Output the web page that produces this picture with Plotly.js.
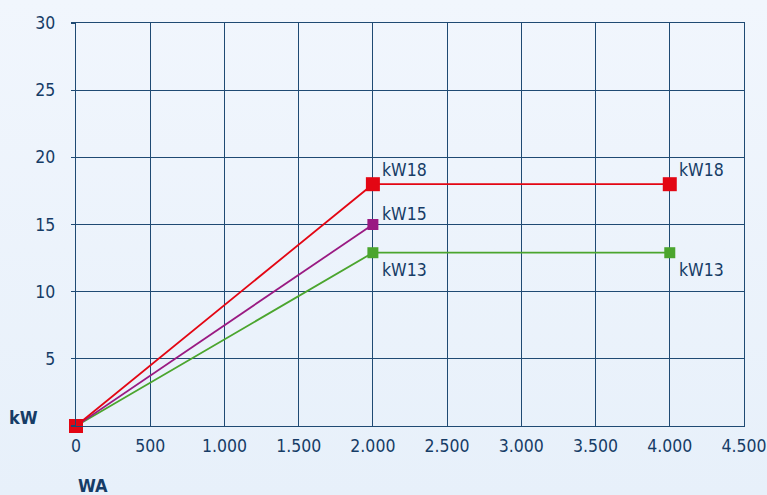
<!DOCTYPE html>
<html>
<head>
<meta charset="utf-8">
<script src="https://cdn.plot.ly/plotly-3.0.1.min.js"></script>
<style>
  html, body { margin: 0; padding: 0; }
  body { width: 767px; height: 495px; background: linear-gradient(to bottom, #f1f6fd 0%, #e7f0fa 100%); }
  #chart { width: 767px; height: 495px; }
</style>
</head>
<body>
<div id="chart"></div>
<script>
const xWA = [0, 2000, 4000];
const kW18 = [0, 18, 18];
const xKW15 = [0, 2000];
const kW15 = [0, 15];
const kW13 = [0, 12.9, 12.9];
const labels18 = ['', 'kW18', 'kW18'];
const labels15 = ['', 'kW15'];
const labels13 = ['', 'kW13', 'kW13'];
const xTicks = [0, 500, 1000, 1500, 2000, 2500, 3000, 3500, 4000, 4500];
const yTicks = [0, 5, 10, 15, 20, 25, 30];

const FONT = '"Liberation Sans Narrow", "DejaVu Sans Condensed", sans-serif';
const NAVY = '#163c66';
const GRID = '#1f4a73';
const RED = '#e30613';
const PURPLE = '#9a1a82';
const GREEN = '#4ba52e';
const FS = 17.5;

const traces = [
  {x: xWA, y: kW13, mode: 'lines+markers', cliponaxis: false, line: {color: GREEN, width: 1.8},
   marker: {symbol: 'square', size: 11, color: GREEN}, hoverinfo: 'skip'},
  {x: xKW15, y: kW15, mode: 'lines+markers', cliponaxis: false, line: {color: PURPLE, width: 1.8},
   marker: {symbol: 'square', size: 11, color: PURPLE}, hoverinfo: 'skip'},
  {x: xWA, y: kW18, mode: 'lines+markers', cliponaxis: false, line: {color: RED, width: 1.8},
   marker: {symbol: 'square', size: 14, color: RED}, hoverinfo: 'skip'}
];

const annotations = [];
function addLabels(xs, ys, texts, yshift) {
  texts.forEach((t, i) => {
    if (!t) return;
    annotations.push({x: xs[i], y: ys[i], xref: 'x', yref: 'y', text: t, showarrow: false,
      xanchor: 'left', yanchor: 'middle', xshift: 7, yshift: yshift,
      font: {family: FONT, size: FS, color: NAVY}});
  });
}
addLabels(xWA, kW18, labels18, 14);
addLabels(xKW15, kW15, labels15, 11);
addLabels(xWA, kW13, labels13, -17);

annotations.push({xref: 'paper', yref: 'paper', x: -0.104, y: 0.02, xanchor: 'left', yanchor: 'middle',
  text: '<b>kW</b>', showarrow: false, font: {family: FONT, size: 18, color: NAVY}});
annotations.push({xref: 'paper', yref: 'paper', x: 0.0, y: -0.147, xanchor: 'left', yanchor: 'middle',
  text: '<b>WA</b>', showarrow: false, font: {family: FONT, size: 18, color: NAVY}});

const layout = {
  width: 767, height: 495,
  margin: {l: 76, r: 23, t: 23, b: 69},
  paper_bgcolor: 'rgba(0,0,0,0)',
  plot_bgcolor: 'rgba(0,0,0,0)',
  showlegend: false,
  separators: ',.',
  font: {family: FONT, size: FS, color: NAVY},
  xaxis: {
    range: [0, 4500], tickvals: xTicks, tickformat: ',d',
    showgrid: true, gridcolor: GRID, gridwidth: 1.2,
    zeroline: false, showline: true, linecolor: GRID, linewidth: 1.2, mirror: true,
    ticks: '', ticklen: 0, ticklabeloverflow: 'allow', ticklabelstandoff: 4, automargin: false,
    tickfont: {family: FONT, size: FS, color: NAVY}
  },
  yaxis: {
    range: [0, 30], tickvals: yTicks,
    ticktext: ['', '5', '10', '15', '20', '25', '30'],
    showgrid: true, gridcolor: GRID, gridwidth: 1.2,
    zeroline: false, showline: true, linecolor: GRID, linewidth: 1.2, mirror: true,
    ticks: 'outside', ticklen: 4, tickcolor: GRID, tickwidth: 1.2, automargin: false,
    ticklabelstandoff: 12,
    tickfont: {family: FONT, size: FS, color: NAVY}
  },
  annotations: annotations
};

Plotly.newPlot('chart', traces, layout, {staticPlot: true, displayModeBar: false});
</script>
</body>
</html>
